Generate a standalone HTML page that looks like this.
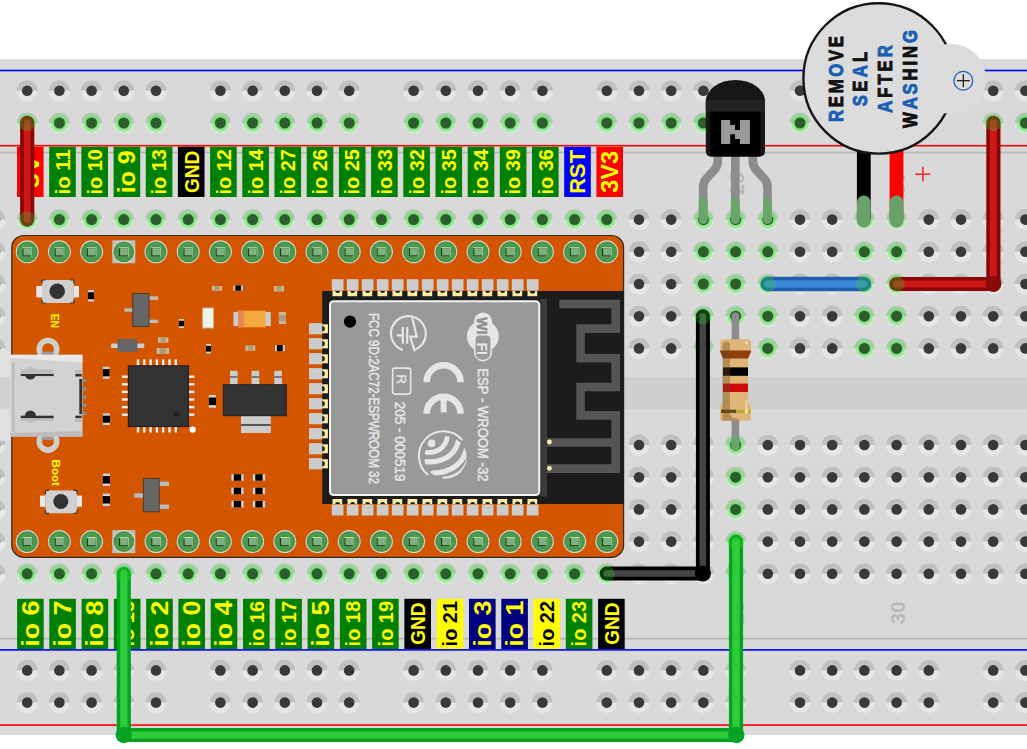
<!DOCTYPE html><html><head><meta charset="utf-8"><style>html,body{margin:0;padding:0;background:#fff;overflow:hidden}svg{display:block}text{font-family:"Liberation Sans",sans-serif}</style></head><body>
<svg width="1027" height="749" viewBox="0 0 1027 749">
<defs>
<radialGradient id="gg" cx="0" cy="0" r="10.6" gradientUnits="userSpaceOnUse"><stop offset="0.45" stop-color="#5ce05c" stop-opacity=".85"/><stop offset="0.72" stop-color="#6ae86a" stop-opacity=".6"/><stop offset="1" stop-color="#80ee80" stop-opacity="0"/></radialGradient>
<g id="h"><circle r="10.6" fill="#e6e6e6"/><path d="M-10.6,0A10.6,10.6 0 0 1 10.6,0Z" fill="#c0c0c0"/><circle r="5.3" fill="#393939"/></g>
<g id="g"><circle r="10.6" fill="#e6e6e6"/><path d="M-10.6,0A10.6,10.6 0 0 1 10.6,0Z" fill="#c0c0c0"/><circle r="10.6" fill="url(#gg)"/><circle r="5.5" fill="#2b5e2b"/></g>
<g id="p"><circle r="11.5" fill="#d2d6d6"/><circle r="10.4" fill="#4e8c4e"/><circle r="9" fill="#46a046"/><circle r="6.9" fill="#558f55"/><rect x="-4.8" y="-4.5" width="9.6" height="9.2" fill="#b4ecb4"/><rect x="-4.8" y="-3.6" width="8.9" height="8.3" fill="#0e3e0e"/><rect x="-3.7" y="-3.6" width="7.8" height="7.2" fill="#80b080"/></g>
</defs>
<rect x="0" y="59" width="1027" height="676" fill="#d9d9d9"/>
<rect x="0" y="377" width="1027" height="32" fill="#cfcfcf"/>
<rect x="0" y="69.7" width="1027" height="1.6" fill="#0000ff"/>
<rect x="0" y="144.9" width="1027" height="1.6" fill="#ff0000"/>
<rect x="0" y="151.7" width="1027" height="1.6" fill="#b5b5b5"/>
<rect x="0" y="637.9" width="1027" height="1.6" fill="#b5b5b5"/>
<rect x="0" y="649.1" width="1027" height="1.6" fill="#0000ff"/>
<rect x="0" y="724.3" width="1027" height="1.6" fill="#ff0000"/>
<text transform="translate(743.6,183.8) rotate(-90)" text-anchor="middle" font-size="20.5" font-weight="bold" fill="#b8b8b8">25</text>
<text transform="translate(904.6,183.8) rotate(-90)" text-anchor="middle" font-size="20.5" font-weight="bold" fill="#b8b8b8">30</text>
<text transform="translate(743.6,612.8) rotate(-90)" text-anchor="middle" font-size="20.5" font-weight="bold" fill="#b8b8b8">25</text>
<text transform="translate(904.6,612.8) rotate(-90)" text-anchor="middle" font-size="20.5" font-weight="bold" fill="#b8b8b8">30</text>
<use href="#h" x="27.2" y="90.8"/>
<use href="#h" x="59.4" y="90.8"/>
<use href="#h" x="91.6" y="90.8"/>
<use href="#h" x="123.8" y="90.8"/>
<use href="#h" x="156" y="90.8"/>
<use href="#h" x="220.4" y="90.8"/>
<use href="#h" x="252.6" y="90.8"/>
<use href="#h" x="284.8" y="90.8"/>
<use href="#h" x="317" y="90.8"/>
<use href="#h" x="349.2" y="90.8"/>
<use href="#h" x="413.6" y="90.8"/>
<use href="#h" x="445.8" y="90.8"/>
<use href="#h" x="478" y="90.8"/>
<use href="#h" x="510.2" y="90.8"/>
<use href="#h" x="542.4" y="90.8"/>
<use href="#h" x="606.8" y="90.8"/>
<use href="#h" x="639" y="90.8"/>
<use href="#h" x="671.2" y="90.8"/>
<use href="#h" x="703.4" y="90.8"/>
<use href="#h" x="735.6" y="90.8"/>
<use href="#h" x="800" y="90.8"/>
<use href="#h" x="832.2" y="90.8"/>
<use href="#h" x="864.4" y="90.8"/>
<use href="#h" x="896.6" y="90.8"/>
<use href="#h" x="928.8" y="90.8"/>
<use href="#h" x="993.2" y="90.8"/>
<use href="#h" x="1025.4" y="90.8"/>
<use href="#g" x="27.2" y="123"/>
<use href="#g" x="59.4" y="123"/>
<use href="#g" x="91.6" y="123"/>
<use href="#g" x="123.8" y="123"/>
<use href="#g" x="156" y="123"/>
<use href="#g" x="220.4" y="123"/>
<use href="#g" x="252.6" y="123"/>
<use href="#g" x="284.8" y="123"/>
<use href="#g" x="317" y="123"/>
<use href="#g" x="349.2" y="123"/>
<use href="#g" x="413.6" y="123"/>
<use href="#g" x="445.8" y="123"/>
<use href="#g" x="478" y="123"/>
<use href="#g" x="510.2" y="123"/>
<use href="#g" x="542.4" y="123"/>
<use href="#g" x="606.8" y="123"/>
<use href="#g" x="639" y="123"/>
<use href="#g" x="671.2" y="123"/>
<use href="#g" x="703.4" y="123"/>
<use href="#g" x="735.6" y="123"/>
<use href="#g" x="800" y="123"/>
<use href="#g" x="832.2" y="123"/>
<use href="#g" x="864.4" y="123"/>
<use href="#g" x="896.6" y="123"/>
<use href="#g" x="928.8" y="123"/>
<use href="#g" x="993.2" y="123"/>
<use href="#g" x="1025.4" y="123"/>
<use href="#h" x="27.2" y="670.4"/>
<use href="#h" x="59.4" y="670.4"/>
<use href="#h" x="91.6" y="670.4"/>
<use href="#h" x="123.8" y="670.4"/>
<use href="#h" x="156" y="670.4"/>
<use href="#h" x="220.4" y="670.4"/>
<use href="#h" x="252.6" y="670.4"/>
<use href="#h" x="284.8" y="670.4"/>
<use href="#h" x="317" y="670.4"/>
<use href="#h" x="349.2" y="670.4"/>
<use href="#h" x="413.6" y="670.4"/>
<use href="#h" x="445.8" y="670.4"/>
<use href="#h" x="478" y="670.4"/>
<use href="#h" x="510.2" y="670.4"/>
<use href="#h" x="542.4" y="670.4"/>
<use href="#h" x="606.8" y="670.4"/>
<use href="#h" x="639" y="670.4"/>
<use href="#h" x="671.2" y="670.4"/>
<use href="#h" x="703.4" y="670.4"/>
<use href="#h" x="735.6" y="670.4"/>
<use href="#h" x="800" y="670.4"/>
<use href="#h" x="832.2" y="670.4"/>
<use href="#h" x="864.4" y="670.4"/>
<use href="#h" x="896.6" y="670.4"/>
<use href="#h" x="928.8" y="670.4"/>
<use href="#h" x="993.2" y="670.4"/>
<use href="#h" x="1025.4" y="670.4"/>
<use href="#h" x="27.2" y="702.6"/>
<use href="#h" x="59.4" y="702.6"/>
<use href="#h" x="91.6" y="702.6"/>
<use href="#h" x="123.8" y="702.6"/>
<use href="#h" x="156" y="702.6"/>
<use href="#h" x="220.4" y="702.6"/>
<use href="#h" x="252.6" y="702.6"/>
<use href="#h" x="284.8" y="702.6"/>
<use href="#h" x="317" y="702.6"/>
<use href="#h" x="349.2" y="702.6"/>
<use href="#h" x="413.6" y="702.6"/>
<use href="#h" x="445.8" y="702.6"/>
<use href="#h" x="478" y="702.6"/>
<use href="#h" x="510.2" y="702.6"/>
<use href="#h" x="542.4" y="702.6"/>
<use href="#h" x="606.8" y="702.6"/>
<use href="#h" x="639" y="702.6"/>
<use href="#h" x="671.2" y="702.6"/>
<use href="#h" x="703.4" y="702.6"/>
<use href="#h" x="735.6" y="702.6"/>
<use href="#h" x="800" y="702.6"/>
<use href="#h" x="832.2" y="702.6"/>
<use href="#h" x="864.4" y="702.6"/>
<use href="#h" x="896.6" y="702.6"/>
<use href="#h" x="928.8" y="702.6"/>
<use href="#h" x="993.2" y="702.6"/>
<use href="#h" x="1025.4" y="702.6"/>
<use href="#h" x="-5" y="219.6"/>
<use href="#g" x="27.2" y="219.6"/>
<use href="#g" x="59.4" y="219.6"/>
<use href="#g" x="91.6" y="219.6"/>
<use href="#g" x="123.8" y="219.6"/>
<use href="#g" x="156" y="219.6"/>
<use href="#g" x="188.2" y="219.6"/>
<use href="#g" x="220.4" y="219.6"/>
<use href="#g" x="252.6" y="219.6"/>
<use href="#g" x="284.8" y="219.6"/>
<use href="#g" x="317" y="219.6"/>
<use href="#g" x="349.2" y="219.6"/>
<use href="#g" x="381.4" y="219.6"/>
<use href="#g" x="413.6" y="219.6"/>
<use href="#g" x="445.8" y="219.6"/>
<use href="#g" x="478" y="219.6"/>
<use href="#g" x="510.2" y="219.6"/>
<use href="#g" x="542.4" y="219.6"/>
<use href="#g" x="574.6" y="219.6"/>
<use href="#g" x="606.8" y="219.6"/>
<use href="#h" x="639" y="219.6"/>
<use href="#h" x="671.2" y="219.6"/>
<use href="#g" x="703.4" y="219.6"/>
<use href="#g" x="735.6" y="219.6"/>
<use href="#g" x="767.8" y="219.6"/>
<use href="#h" x="800" y="219.6"/>
<use href="#h" x="832.2" y="219.6"/>
<use href="#g" x="864.4" y="219.6"/>
<use href="#g" x="896.6" y="219.6"/>
<use href="#h" x="928.8" y="219.6"/>
<use href="#h" x="961" y="219.6"/>
<use href="#h" x="993.2" y="219.6"/>
<use href="#h" x="1025.4" y="219.6"/>
<use href="#h" x="-5" y="251.8"/>
<use href="#g" x="27.2" y="251.8"/>
<use href="#g" x="59.4" y="251.8"/>
<use href="#g" x="91.6" y="251.8"/>
<use href="#g" x="123.8" y="251.8"/>
<use href="#g" x="156" y="251.8"/>
<use href="#g" x="188.2" y="251.8"/>
<use href="#g" x="220.4" y="251.8"/>
<use href="#g" x="252.6" y="251.8"/>
<use href="#g" x="284.8" y="251.8"/>
<use href="#g" x="317" y="251.8"/>
<use href="#g" x="349.2" y="251.8"/>
<use href="#g" x="381.4" y="251.8"/>
<use href="#g" x="413.6" y="251.8"/>
<use href="#g" x="445.8" y="251.8"/>
<use href="#g" x="478" y="251.8"/>
<use href="#g" x="510.2" y="251.8"/>
<use href="#g" x="542.4" y="251.8"/>
<use href="#g" x="574.6" y="251.8"/>
<use href="#g" x="606.8" y="251.8"/>
<use href="#h" x="639" y="251.8"/>
<use href="#h" x="671.2" y="251.8"/>
<use href="#g" x="703.4" y="251.8"/>
<use href="#g" x="735.6" y="251.8"/>
<use href="#g" x="767.8" y="251.8"/>
<use href="#h" x="800" y="251.8"/>
<use href="#h" x="832.2" y="251.8"/>
<use href="#g" x="864.4" y="251.8"/>
<use href="#g" x="896.6" y="251.8"/>
<use href="#h" x="928.8" y="251.8"/>
<use href="#h" x="961" y="251.8"/>
<use href="#h" x="993.2" y="251.8"/>
<use href="#h" x="1025.4" y="251.8"/>
<use href="#h" x="-5" y="284"/>
<use href="#g" x="27.2" y="284"/>
<use href="#g" x="59.4" y="284"/>
<use href="#g" x="91.6" y="284"/>
<use href="#g" x="123.8" y="284"/>
<use href="#g" x="156" y="284"/>
<use href="#g" x="188.2" y="284"/>
<use href="#g" x="220.4" y="284"/>
<use href="#g" x="252.6" y="284"/>
<use href="#g" x="284.8" y="284"/>
<use href="#g" x="317" y="284"/>
<use href="#g" x="349.2" y="284"/>
<use href="#g" x="381.4" y="284"/>
<use href="#g" x="413.6" y="284"/>
<use href="#g" x="445.8" y="284"/>
<use href="#g" x="478" y="284"/>
<use href="#g" x="510.2" y="284"/>
<use href="#g" x="542.4" y="284"/>
<use href="#g" x="574.6" y="284"/>
<use href="#g" x="606.8" y="284"/>
<use href="#h" x="639" y="284"/>
<use href="#h" x="671.2" y="284"/>
<use href="#g" x="703.4" y="284"/>
<use href="#g" x="735.6" y="284"/>
<use href="#g" x="767.8" y="284"/>
<use href="#h" x="800" y="284"/>
<use href="#h" x="832.2" y="284"/>
<use href="#g" x="864.4" y="284"/>
<use href="#g" x="896.6" y="284"/>
<use href="#h" x="928.8" y="284"/>
<use href="#h" x="961" y="284"/>
<use href="#h" x="993.2" y="284"/>
<use href="#h" x="1025.4" y="284"/>
<use href="#h" x="-5" y="316.2"/>
<use href="#g" x="27.2" y="316.2"/>
<use href="#g" x="59.4" y="316.2"/>
<use href="#g" x="91.6" y="316.2"/>
<use href="#g" x="123.8" y="316.2"/>
<use href="#g" x="156" y="316.2"/>
<use href="#g" x="188.2" y="316.2"/>
<use href="#g" x="220.4" y="316.2"/>
<use href="#g" x="252.6" y="316.2"/>
<use href="#g" x="284.8" y="316.2"/>
<use href="#g" x="317" y="316.2"/>
<use href="#g" x="349.2" y="316.2"/>
<use href="#g" x="381.4" y="316.2"/>
<use href="#g" x="413.6" y="316.2"/>
<use href="#g" x="445.8" y="316.2"/>
<use href="#g" x="478" y="316.2"/>
<use href="#g" x="510.2" y="316.2"/>
<use href="#g" x="542.4" y="316.2"/>
<use href="#g" x="574.6" y="316.2"/>
<use href="#g" x="606.8" y="316.2"/>
<use href="#h" x="639" y="316.2"/>
<use href="#h" x="671.2" y="316.2"/>
<use href="#g" x="703.4" y="316.2"/>
<use href="#g" x="735.6" y="316.2"/>
<use href="#g" x="767.8" y="316.2"/>
<use href="#h" x="800" y="316.2"/>
<use href="#h" x="832.2" y="316.2"/>
<use href="#g" x="864.4" y="316.2"/>
<use href="#g" x="896.6" y="316.2"/>
<use href="#h" x="928.8" y="316.2"/>
<use href="#h" x="961" y="316.2"/>
<use href="#h" x="993.2" y="316.2"/>
<use href="#h" x="1025.4" y="316.2"/>
<use href="#h" x="-5" y="348.4"/>
<use href="#g" x="27.2" y="348.4"/>
<use href="#g" x="59.4" y="348.4"/>
<use href="#g" x="91.6" y="348.4"/>
<use href="#g" x="123.8" y="348.4"/>
<use href="#g" x="156" y="348.4"/>
<use href="#g" x="188.2" y="348.4"/>
<use href="#g" x="220.4" y="348.4"/>
<use href="#g" x="252.6" y="348.4"/>
<use href="#g" x="284.8" y="348.4"/>
<use href="#g" x="317" y="348.4"/>
<use href="#g" x="349.2" y="348.4"/>
<use href="#g" x="381.4" y="348.4"/>
<use href="#g" x="413.6" y="348.4"/>
<use href="#g" x="445.8" y="348.4"/>
<use href="#g" x="478" y="348.4"/>
<use href="#g" x="510.2" y="348.4"/>
<use href="#g" x="542.4" y="348.4"/>
<use href="#g" x="574.6" y="348.4"/>
<use href="#g" x="606.8" y="348.4"/>
<use href="#h" x="639" y="348.4"/>
<use href="#h" x="671.2" y="348.4"/>
<use href="#g" x="703.4" y="348.4"/>
<use href="#g" x="735.6" y="348.4"/>
<use href="#g" x="767.8" y="348.4"/>
<use href="#h" x="800" y="348.4"/>
<use href="#h" x="832.2" y="348.4"/>
<use href="#g" x="864.4" y="348.4"/>
<use href="#g" x="896.6" y="348.4"/>
<use href="#h" x="928.8" y="348.4"/>
<use href="#h" x="961" y="348.4"/>
<use href="#h" x="993.2" y="348.4"/>
<use href="#h" x="1025.4" y="348.4"/>
<use href="#h" x="-5" y="445"/>
<use href="#g" x="27.2" y="445"/>
<use href="#g" x="59.4" y="445"/>
<use href="#g" x="91.6" y="445"/>
<use href="#g" x="123.8" y="445"/>
<use href="#g" x="156" y="445"/>
<use href="#g" x="188.2" y="445"/>
<use href="#g" x="220.4" y="445"/>
<use href="#g" x="252.6" y="445"/>
<use href="#g" x="284.8" y="445"/>
<use href="#g" x="317" y="445"/>
<use href="#g" x="349.2" y="445"/>
<use href="#g" x="381.4" y="445"/>
<use href="#g" x="413.6" y="445"/>
<use href="#g" x="445.8" y="445"/>
<use href="#g" x="478" y="445"/>
<use href="#g" x="510.2" y="445"/>
<use href="#g" x="542.4" y="445"/>
<use href="#g" x="574.6" y="445"/>
<use href="#g" x="606.8" y="445"/>
<use href="#h" x="639" y="445"/>
<use href="#h" x="671.2" y="445"/>
<use href="#h" x="703.4" y="445"/>
<use href="#g" x="735.6" y="445"/>
<use href="#h" x="767.8" y="445"/>
<use href="#h" x="800" y="445"/>
<use href="#h" x="832.2" y="445"/>
<use href="#h" x="864.4" y="445"/>
<use href="#h" x="896.6" y="445"/>
<use href="#h" x="928.8" y="445"/>
<use href="#h" x="961" y="445"/>
<use href="#h" x="993.2" y="445"/>
<use href="#h" x="1025.4" y="445"/>
<use href="#h" x="-5" y="477.2"/>
<use href="#g" x="27.2" y="477.2"/>
<use href="#g" x="59.4" y="477.2"/>
<use href="#g" x="91.6" y="477.2"/>
<use href="#g" x="123.8" y="477.2"/>
<use href="#g" x="156" y="477.2"/>
<use href="#g" x="188.2" y="477.2"/>
<use href="#g" x="220.4" y="477.2"/>
<use href="#g" x="252.6" y="477.2"/>
<use href="#g" x="284.8" y="477.2"/>
<use href="#g" x="317" y="477.2"/>
<use href="#g" x="349.2" y="477.2"/>
<use href="#g" x="381.4" y="477.2"/>
<use href="#g" x="413.6" y="477.2"/>
<use href="#g" x="445.8" y="477.2"/>
<use href="#g" x="478" y="477.2"/>
<use href="#g" x="510.2" y="477.2"/>
<use href="#g" x="542.4" y="477.2"/>
<use href="#g" x="574.6" y="477.2"/>
<use href="#g" x="606.8" y="477.2"/>
<use href="#h" x="639" y="477.2"/>
<use href="#h" x="671.2" y="477.2"/>
<use href="#h" x="703.4" y="477.2"/>
<use href="#g" x="735.6" y="477.2"/>
<use href="#h" x="767.8" y="477.2"/>
<use href="#h" x="800" y="477.2"/>
<use href="#h" x="832.2" y="477.2"/>
<use href="#h" x="864.4" y="477.2"/>
<use href="#h" x="896.6" y="477.2"/>
<use href="#h" x="928.8" y="477.2"/>
<use href="#h" x="961" y="477.2"/>
<use href="#h" x="993.2" y="477.2"/>
<use href="#h" x="1025.4" y="477.2"/>
<use href="#h" x="-5" y="509.4"/>
<use href="#g" x="27.2" y="509.4"/>
<use href="#g" x="59.4" y="509.4"/>
<use href="#g" x="91.6" y="509.4"/>
<use href="#g" x="123.8" y="509.4"/>
<use href="#g" x="156" y="509.4"/>
<use href="#g" x="188.2" y="509.4"/>
<use href="#g" x="220.4" y="509.4"/>
<use href="#g" x="252.6" y="509.4"/>
<use href="#g" x="284.8" y="509.4"/>
<use href="#g" x="317" y="509.4"/>
<use href="#g" x="349.2" y="509.4"/>
<use href="#g" x="381.4" y="509.4"/>
<use href="#g" x="413.6" y="509.4"/>
<use href="#g" x="445.8" y="509.4"/>
<use href="#g" x="478" y="509.4"/>
<use href="#g" x="510.2" y="509.4"/>
<use href="#g" x="542.4" y="509.4"/>
<use href="#g" x="574.6" y="509.4"/>
<use href="#g" x="606.8" y="509.4"/>
<use href="#h" x="639" y="509.4"/>
<use href="#h" x="671.2" y="509.4"/>
<use href="#h" x="703.4" y="509.4"/>
<use href="#g" x="735.6" y="509.4"/>
<use href="#h" x="767.8" y="509.4"/>
<use href="#h" x="800" y="509.4"/>
<use href="#h" x="832.2" y="509.4"/>
<use href="#h" x="864.4" y="509.4"/>
<use href="#h" x="896.6" y="509.4"/>
<use href="#h" x="928.8" y="509.4"/>
<use href="#h" x="961" y="509.4"/>
<use href="#h" x="993.2" y="509.4"/>
<use href="#h" x="1025.4" y="509.4"/>
<use href="#h" x="-5" y="541.6"/>
<use href="#g" x="27.2" y="541.6"/>
<use href="#g" x="59.4" y="541.6"/>
<use href="#g" x="91.6" y="541.6"/>
<use href="#g" x="123.8" y="541.6"/>
<use href="#g" x="156" y="541.6"/>
<use href="#g" x="188.2" y="541.6"/>
<use href="#g" x="220.4" y="541.6"/>
<use href="#g" x="252.6" y="541.6"/>
<use href="#g" x="284.8" y="541.6"/>
<use href="#g" x="317" y="541.6"/>
<use href="#g" x="349.2" y="541.6"/>
<use href="#g" x="381.4" y="541.6"/>
<use href="#g" x="413.6" y="541.6"/>
<use href="#g" x="445.8" y="541.6"/>
<use href="#g" x="478" y="541.6"/>
<use href="#g" x="510.2" y="541.6"/>
<use href="#g" x="542.4" y="541.6"/>
<use href="#g" x="574.6" y="541.6"/>
<use href="#g" x="606.8" y="541.6"/>
<use href="#h" x="639" y="541.6"/>
<use href="#h" x="671.2" y="541.6"/>
<use href="#h" x="703.4" y="541.6"/>
<use href="#g" x="735.6" y="541.6"/>
<use href="#h" x="767.8" y="541.6"/>
<use href="#h" x="800" y="541.6"/>
<use href="#h" x="832.2" y="541.6"/>
<use href="#h" x="864.4" y="541.6"/>
<use href="#h" x="896.6" y="541.6"/>
<use href="#h" x="928.8" y="541.6"/>
<use href="#h" x="961" y="541.6"/>
<use href="#h" x="993.2" y="541.6"/>
<use href="#h" x="1025.4" y="541.6"/>
<use href="#h" x="-5" y="573.8"/>
<use href="#g" x="27.2" y="573.8"/>
<use href="#g" x="59.4" y="573.8"/>
<use href="#g" x="91.6" y="573.8"/>
<use href="#g" x="123.8" y="573.8"/>
<use href="#g" x="156" y="573.8"/>
<use href="#g" x="188.2" y="573.8"/>
<use href="#g" x="220.4" y="573.8"/>
<use href="#g" x="252.6" y="573.8"/>
<use href="#g" x="284.8" y="573.8"/>
<use href="#g" x="317" y="573.8"/>
<use href="#g" x="349.2" y="573.8"/>
<use href="#g" x="381.4" y="573.8"/>
<use href="#g" x="413.6" y="573.8"/>
<use href="#g" x="445.8" y="573.8"/>
<use href="#g" x="478" y="573.8"/>
<use href="#g" x="510.2" y="573.8"/>
<use href="#g" x="542.4" y="573.8"/>
<use href="#g" x="574.6" y="573.8"/>
<use href="#g" x="606.8" y="573.8"/>
<use href="#h" x="639" y="573.8"/>
<use href="#h" x="671.2" y="573.8"/>
<use href="#h" x="703.4" y="573.8"/>
<use href="#g" x="735.6" y="573.8"/>
<use href="#h" x="767.8" y="573.8"/>
<use href="#h" x="800" y="573.8"/>
<use href="#h" x="832.2" y="573.8"/>
<use href="#h" x="864.4" y="573.8"/>
<use href="#h" x="896.6" y="573.8"/>
<use href="#h" x="928.8" y="573.8"/>
<use href="#h" x="961" y="573.8"/>
<use href="#h" x="993.2" y="573.8"/>
<use href="#h" x="1025.4" y="573.8"/>
<rect x="17" y="146.8" width="26.6" height="50.2" fill="#ff0000"/>
<text transform="translate(38.9,171.8) rotate(-90)" text-anchor="middle" font-size="24" font-weight="bold" fill="#ffff00" textLength="33" lengthAdjust="spacingAndGlyphs">5V</text>
<rect x="49.2" y="146.8" width="26.6" height="50.2" fill="#008000"/>
<text transform="translate(69.7,171.8) rotate(-90)" text-anchor="middle" font-size="20" font-weight="bold" fill="#ffff00" textLength="45.4" lengthAdjust="spacingAndGlyphs">io 11</text>
<rect x="81.4" y="146.8" width="26.6" height="50.2" fill="#008000"/>
<text transform="translate(101.9,171.8) rotate(-90)" text-anchor="middle" font-size="20" font-weight="bold" fill="#ffff00" textLength="45.4" lengthAdjust="spacingAndGlyphs">io 10</text>
<rect x="113.6" y="146.8" width="26.6" height="50.2" fill="#008000"/>
<text transform="translate(135.1,171.8) rotate(-90)" text-anchor="middle" font-size="23" font-weight="bold" fill="#ffff00" textLength="42.8" lengthAdjust="spacingAndGlyphs">io 9</text>
<rect x="145.8" y="146.8" width="26.6" height="50.2" fill="#008000"/>
<text transform="translate(166.3,171.8) rotate(-90)" text-anchor="middle" font-size="20" font-weight="bold" fill="#ffff00" textLength="45.4" lengthAdjust="spacingAndGlyphs">io 13</text>
<rect x="177.9" y="146.8" width="26.6" height="50.2" fill="#000000"/>
<text transform="translate(198.8,171.8) rotate(-90)" text-anchor="middle" font-size="21" font-weight="bold" fill="#ffff00" textLength="42.3" lengthAdjust="spacingAndGlyphs">GND</text>
<rect x="210.1" y="146.8" width="26.6" height="50.2" fill="#008000"/>
<text transform="translate(230.6,171.8) rotate(-90)" text-anchor="middle" font-size="20" font-weight="bold" fill="#ffff00" textLength="45.4" lengthAdjust="spacingAndGlyphs">io 12</text>
<rect x="242.3" y="146.8" width="26.6" height="50.2" fill="#008000"/>
<text transform="translate(262.8,171.8) rotate(-90)" text-anchor="middle" font-size="20" font-weight="bold" fill="#ffff00" textLength="45.4" lengthAdjust="spacingAndGlyphs">io 14</text>
<rect x="274.5" y="146.8" width="26.6" height="50.2" fill="#008000"/>
<text transform="translate(295,171.8) rotate(-90)" text-anchor="middle" font-size="20" font-weight="bold" fill="#ffff00" textLength="45.4" lengthAdjust="spacingAndGlyphs">io 27</text>
<rect x="306.7" y="146.8" width="26.6" height="50.2" fill="#008000"/>
<text transform="translate(327.2,171.8) rotate(-90)" text-anchor="middle" font-size="20" font-weight="bold" fill="#ffff00" textLength="45.4" lengthAdjust="spacingAndGlyphs">io 26</text>
<rect x="338.9" y="146.8" width="26.6" height="50.2" fill="#008000"/>
<text transform="translate(359.4,171.8) rotate(-90)" text-anchor="middle" font-size="20" font-weight="bold" fill="#ffff00" textLength="45.4" lengthAdjust="spacingAndGlyphs">io 25</text>
<rect x="371.1" y="146.8" width="26.6" height="50.2" fill="#008000"/>
<text transform="translate(391.6,171.8) rotate(-90)" text-anchor="middle" font-size="20" font-weight="bold" fill="#ffff00" textLength="45.4" lengthAdjust="spacingAndGlyphs">io 33</text>
<rect x="403.3" y="146.8" width="26.6" height="50.2" fill="#008000"/>
<text transform="translate(423.8,171.8) rotate(-90)" text-anchor="middle" font-size="20" font-weight="bold" fill="#ffff00" textLength="45.4" lengthAdjust="spacingAndGlyphs">io 32</text>
<rect x="435.5" y="146.8" width="26.6" height="50.2" fill="#008000"/>
<text transform="translate(456,171.8) rotate(-90)" text-anchor="middle" font-size="20" font-weight="bold" fill="#ffff00" textLength="45.4" lengthAdjust="spacingAndGlyphs">io 35</text>
<rect x="467.7" y="146.8" width="26.6" height="50.2" fill="#008000"/>
<text transform="translate(488.2,171.8) rotate(-90)" text-anchor="middle" font-size="20" font-weight="bold" fill="#ffff00" textLength="45.4" lengthAdjust="spacingAndGlyphs">io 34</text>
<rect x="499.8" y="146.8" width="26.6" height="50.2" fill="#008000"/>
<text transform="translate(520.4,171.8) rotate(-90)" text-anchor="middle" font-size="20" font-weight="bold" fill="#ffff00" textLength="45.4" lengthAdjust="spacingAndGlyphs">io 39</text>
<rect x="532" y="146.8" width="26.6" height="50.2" fill="#008000"/>
<text transform="translate(552.5,171.8) rotate(-90)" text-anchor="middle" font-size="20" font-weight="bold" fill="#ffff00" textLength="45.4" lengthAdjust="spacingAndGlyphs">io 36</text>
<rect x="564.2" y="146.8" width="26.6" height="50.2" fill="#0000ff"/>
<text transform="translate(585.4,171.8) rotate(-90)" text-anchor="middle" font-size="22" font-weight="bold" fill="#ffff00" textLength="43.8" lengthAdjust="spacingAndGlyphs">RST</text>
<rect x="596.4" y="146.8" width="26.6" height="50.2" fill="#ff0000"/>
<text transform="translate(618.2,171.8) rotate(-90)" text-anchor="middle" font-size="23.5" font-weight="bold" fill="#ffff00" textLength="42" lengthAdjust="spacingAndGlyphs">3V3</text>
<rect x="17.1" y="598.8" width="26.6" height="50.2" fill="#008000"/>
<text transform="translate(38.6,623.7) rotate(-90)" text-anchor="middle" font-size="23" font-weight="bold" fill="#ffff00" textLength="46.3" lengthAdjust="spacingAndGlyphs">io 6</text>
<rect x="49.3" y="598.8" width="26.6" height="50.2" fill="#008000"/>
<text transform="translate(70.9,623.7) rotate(-90)" text-anchor="middle" font-size="23" font-weight="bold" fill="#ffff00" textLength="46.3" lengthAdjust="spacingAndGlyphs">io 7</text>
<rect x="81.6" y="598.8" width="26.6" height="50.2" fill="#008000"/>
<text transform="translate(103.2,623.7) rotate(-90)" text-anchor="middle" font-size="23" font-weight="bold" fill="#ffff00" textLength="46.3" lengthAdjust="spacingAndGlyphs">io 8</text>
<rect x="113.9" y="598.8" width="26.6" height="50.2" fill="#008000"/>
<text transform="translate(134.4,623.7) rotate(-90)" text-anchor="middle" font-size="20" font-weight="bold" fill="#ffff00" textLength="45.4" lengthAdjust="spacingAndGlyphs">io 15</text>
<rect x="146.2" y="598.8" width="26.6" height="50.2" fill="#008000"/>
<text transform="translate(167.8,623.7) rotate(-90)" text-anchor="middle" font-size="23" font-weight="bold" fill="#ffff00" textLength="46.3" lengthAdjust="spacingAndGlyphs">io 2</text>
<rect x="178.4" y="598.8" width="26.6" height="50.2" fill="#008000"/>
<text transform="translate(200,623.7) rotate(-90)" text-anchor="middle" font-size="23" font-weight="bold" fill="#ffff00" textLength="46.3" lengthAdjust="spacingAndGlyphs">io 0</text>
<rect x="210.7" y="598.8" width="26.6" height="50.2" fill="#008000"/>
<text transform="translate(232.3,623.7) rotate(-90)" text-anchor="middle" font-size="23" font-weight="bold" fill="#ffff00" textLength="46.3" lengthAdjust="spacingAndGlyphs">io 4</text>
<rect x="243" y="598.8" width="26.6" height="50.2" fill="#008000"/>
<text transform="translate(263.5,623.7) rotate(-90)" text-anchor="middle" font-size="20" font-weight="bold" fill="#ffff00" textLength="45.4" lengthAdjust="spacingAndGlyphs">io 16</text>
<rect x="275.3" y="598.8" width="26.6" height="50.2" fill="#008000"/>
<text transform="translate(295.8,623.7) rotate(-90)" text-anchor="middle" font-size="20" font-weight="bold" fill="#ffff00" textLength="45.4" lengthAdjust="spacingAndGlyphs">io 17</text>
<rect x="307.6" y="598.8" width="26.6" height="50.2" fill="#008000"/>
<text transform="translate(329.1,623.7) rotate(-90)" text-anchor="middle" font-size="23" font-weight="bold" fill="#ffff00" textLength="46.3" lengthAdjust="spacingAndGlyphs">io 5</text>
<rect x="339.9" y="598.8" width="26.6" height="50.2" fill="#008000"/>
<text transform="translate(360.4,623.7) rotate(-90)" text-anchor="middle" font-size="20" font-weight="bold" fill="#ffff00" textLength="45.4" lengthAdjust="spacingAndGlyphs">io 18</text>
<rect x="372.1" y="598.8" width="26.6" height="50.2" fill="#008000"/>
<text transform="translate(392.6,623.7) rotate(-90)" text-anchor="middle" font-size="20" font-weight="bold" fill="#ffff00" textLength="45.4" lengthAdjust="spacingAndGlyphs">io 19</text>
<rect x="404.4" y="598.8" width="26.6" height="50.2" fill="#000000"/>
<text transform="translate(425.3,623.7) rotate(-90)" text-anchor="middle" font-size="21" font-weight="bold" fill="#ffff00" textLength="42.3" lengthAdjust="spacingAndGlyphs">GND</text>
<rect x="436.7" y="598.8" width="26.6" height="50.2" fill="#ffff00"/>
<text transform="translate(457.2,623.7) rotate(-90)" text-anchor="middle" font-size="20" font-weight="bold" fill="#000000" textLength="45.4" lengthAdjust="spacingAndGlyphs">io 21</text>
<rect x="469" y="598.8" width="26.6" height="50.2" fill="#000080"/>
<text transform="translate(490.6,623.7) rotate(-90)" text-anchor="middle" font-size="23" font-weight="bold" fill="#ffff00" textLength="46.3" lengthAdjust="spacingAndGlyphs">io 3</text>
<rect x="501.3" y="598.8" width="26.6" height="50.2" fill="#000080"/>
<text transform="translate(522.8,623.7) rotate(-90)" text-anchor="middle" font-size="23" font-weight="bold" fill="#ffff00" textLength="46.3" lengthAdjust="spacingAndGlyphs">io 1</text>
<rect x="533.5" y="598.8" width="26.6" height="50.2" fill="#ffff00"/>
<text transform="translate(554,623.7) rotate(-90)" text-anchor="middle" font-size="20" font-weight="bold" fill="#000000" textLength="45.4" lengthAdjust="spacingAndGlyphs">io 22</text>
<rect x="565.8" y="598.8" width="26.6" height="50.2" fill="#008000"/>
<text transform="translate(586.3,623.7) rotate(-90)" text-anchor="middle" font-size="20" font-weight="bold" fill="#ffff00" textLength="45.4" lengthAdjust="spacingAndGlyphs">io 23</text>
<rect x="598.1" y="598.8" width="26.6" height="50.2" fill="#000000"/>
<text transform="translate(618.9,623.7) rotate(-90)" text-anchor="middle" font-size="21" font-weight="bold" fill="#ffff00" textLength="42.3" lengthAdjust="spacingAndGlyphs">GND</text>
<rect x="11.8" y="235.5" width="611.8" height="321.8" rx="12" fill="#d45500" stroke="#2a2a2a" stroke-width="1.2"/>
<use href="#p" x="27.2" y="251.8"/>
<use href="#p" x="27.2" y="541.6"/>
<use href="#p" x="59.4" y="251.8"/>
<use href="#p" x="59.4" y="541.6"/>
<use href="#p" x="91.6" y="251.8"/>
<use href="#p" x="91.6" y="541.6"/>
<rect x="112.3" y="240.3" width="23" height="23" fill="#bdbdbd"/>
<use href="#p" x="123.8" y="251.8"/>
<rect x="112.3" y="530.1" width="23" height="23" fill="#bdbdbd"/>
<use href="#p" x="123.8" y="541.6"/>
<use href="#p" x="156" y="251.8"/>
<use href="#p" x="156" y="541.6"/>
<use href="#p" x="188.2" y="251.8"/>
<use href="#p" x="188.2" y="541.6"/>
<use href="#p" x="220.4" y="251.8"/>
<use href="#p" x="220.4" y="541.6"/>
<use href="#p" x="252.6" y="251.8"/>
<use href="#p" x="252.6" y="541.6"/>
<use href="#p" x="284.8" y="251.8"/>
<use href="#p" x="284.8" y="541.6"/>
<use href="#p" x="317" y="251.8"/>
<use href="#p" x="317" y="541.6"/>
<use href="#p" x="349.2" y="251.8"/>
<use href="#p" x="349.2" y="541.6"/>
<use href="#p" x="381.4" y="251.8"/>
<use href="#p" x="381.4" y="541.6"/>
<use href="#p" x="413.6" y="251.8"/>
<use href="#p" x="413.6" y="541.6"/>
<use href="#p" x="445.8" y="251.8"/>
<use href="#p" x="445.8" y="541.6"/>
<use href="#p" x="478" y="251.8"/>
<use href="#p" x="478" y="541.6"/>
<use href="#p" x="510.2" y="251.8"/>
<use href="#p" x="510.2" y="541.6"/>
<use href="#p" x="542.4" y="251.8"/>
<use href="#p" x="542.4" y="541.6"/>
<use href="#p" x="574.6" y="251.8"/>
<use href="#p" x="574.6" y="541.6"/>
<use href="#p" x="606.8" y="251.8"/>
<use href="#p" x="606.8" y="541.6"/>
<rect x="36.3" y="286" width="5.7" height="11.4" fill="#e8e8e8"/>
<rect x="73.8" y="286" width="5.2" height="11.4" fill="#e8e8e8"/>
<rect x="42" y="280" width="31.8" height="23" fill="#d0d0d0"/>
<path d="M42,280h3.5M42,280v3.5" stroke="#333" stroke-width="1.2"/>
<path d="M73.8,280h-3.5M73.8,280v3.5" stroke="#333" stroke-width="1.2"/>
<path d="M42,303h3.5M42,303v-3.5" stroke="#333" stroke-width="1.2"/>
<path d="M73.8,303h-3.5M73.8,303v-3.5" stroke="#333" stroke-width="1.2"/>
<circle cx="57.2" cy="291.3" r="7.8" fill="#333"/>
<text transform="translate(51.1,313.8) rotate(90)" font-size="10.5" font-weight="bold" fill="#ffff00" textLength="14.2" lengthAdjust="spacingAndGlyphs">EN</text>
<rect x="88" y="290" width="6" height="11.5" fill="#d0d0d0"/>
<rect x="88" y="292.3" width="6" height="6.9" fill="#000"/>
<rect x="149" y="296.3" width="9.2" height="3.6" fill="#bbb"/>
<rect x="149" y="319.7" width="9.2" height="3.3" fill="#bbb"/>
<rect x="124.4" y="308.3" width="8.4" height="3.4" fill="#bbb"/>
<rect x="132.8" y="293.6" width="16.2" height="32.9" fill="#666" stroke="#333" stroke-width="0.8"/>
<rect x="179" y="319" width="5" height="9" fill="#d0d0d0"/>
<rect x="179" y="320.8" width="5" height="5.4" fill="#000"/>
<rect x="111.2" y="343.5" width="33" height="4.5" fill="#ccc"/>
<rect x="117.6" y="339" width="19.7" height="13" fill="#666"/>
<rect x="158" y="337.4" width="10.4" height="5.4" fill="#c9b79c"/>
<rect x="160.6" y="337.4" width="5.2" height="5.4" fill="#b09a78"/>
<rect x="156.6" y="348" width="12.4" height="6" fill="#c9b79c"/>
<rect x="159.7" y="348" width="6.2" height="6" fill="#b09a78"/>
<rect x="0" y="351" width="10.4" height="89.6" fill="#e0e0e0"/>
<rect x="0" y="377" width="10.4" height="31.5" fill="#d0d0d0"/>
<circle cx="48" cy="349.2" r="8.7" fill="none" stroke="#cfcfcf" stroke-width="5.6"/>
<circle cx="48" cy="441.4" r="8.7" fill="none" stroke="#cfcfcf" stroke-width="5.6"/>
<rect x="41.7" y="351.6" width="12" height="3.2" fill="#9a9a9a"/>
<rect x="41.7" y="436.6" width="12" height="3.4" fill="#9a9a9a"/>
<rect x="10.4" y="354.8" width="72.1" height="81.8" fill="#d2d2d2"/>
<path d="M10.4,354.8L82.5,354.8L82.5,362.5L10.4,358Z" fill="#e8e8e8"/>
<path d="M10.4,436.6L82.5,436.6L82.5,431L10.4,433Z" fill="#bdbdbd"/>
<rect x="12" y="362" width="2.4" height="70" fill="#bbbbbb"/>
<rect x="20.8" y="369.3" width="32.9" height="7.2" fill="#bdbdbd"/>
<circle cx="30.4" cy="372.5" r="5.5" fill="#bdbdbd"/>
<path d="M24.9,374A5.5,5.5 0 0 0 35.9,374Z" fill="#333"/>
<rect x="20.8" y="374" width="32.9" height="2" fill="#333"/>
<rect x="20.8" y="418" width="32.9" height="3" fill="#bdbdbd"/>
<circle cx="30.4" cy="417.3" r="5.5" fill="#bdbdbd"/>
<path d="M24.9,416A5.5,5.5 0 0 1 35.9,416Z" fill="#333"/>
<rect x="20.8" y="415.7" width="32.9" height="2.4" fill="#333"/>
<rect x="79.3" y="378.9" width="2.7" height="35.2" fill="#333"/>
<rect x="75.3" y="374" width="6.4" height="2.5" fill="#333"/>
<rect x="75.3" y="415.7" width="6.4" height="2.3" fill="#333"/>
<rect x="75.3" y="370" width="6.4" height="4" fill="#bbb"/>
<rect x="75.3" y="418" width="6.4" height="4" fill="#bbb"/>
<rect x="82.5" y="378.9" width="4" height="3.5" fill="#888"/>
<rect x="82.5" y="387.1" width="4" height="3.5" fill="#888"/>
<rect x="82.5" y="395.3" width="4" height="3.5" fill="#888"/>
<rect x="82.5" y="403.5" width="4" height="3.5" fill="#888"/>
<rect x="82.5" y="411.7" width="4" height="3.5" fill="#888"/>
<rect x="102.8" y="366.7" width="6.8" height="12" fill="#d0d0d0"/>
<rect x="102.8" y="369.1" width="6.8" height="7.2" fill="#000"/>
<rect x="102.8" y="413.4" width="7.2" height="11.6" fill="#d0d0d0"/>
<rect x="102.8" y="415.7" width="7.2" height="7" fill="#000"/>
<rect x="136.8" y="359.4" width="2.4" height="6.4" fill="#f0f0f0"/>
<rect x="136.8" y="426.6" width="2.4" height="5.9" fill="#f0f0f0"/>
<rect x="143.1" y="359.4" width="2.4" height="6.4" fill="#f0f0f0"/>
<rect x="143.1" y="426.6" width="2.4" height="5.9" fill="#f0f0f0"/>
<rect x="149.4" y="359.4" width="2.4" height="6.4" fill="#f0f0f0"/>
<rect x="149.4" y="426.6" width="2.4" height="5.9" fill="#f0f0f0"/>
<rect x="155.7" y="359.4" width="2.4" height="6.4" fill="#f0f0f0"/>
<rect x="155.7" y="426.6" width="2.4" height="5.9" fill="#f0f0f0"/>
<rect x="162" y="359.4" width="2.4" height="6.4" fill="#f0f0f0"/>
<rect x="162" y="426.6" width="2.4" height="5.9" fill="#f0f0f0"/>
<rect x="168.3" y="359.4" width="2.4" height="6.4" fill="#f0f0f0"/>
<rect x="168.3" y="426.6" width="2.4" height="5.9" fill="#f0f0f0"/>
<rect x="174.6" y="359.4" width="2.4" height="6.4" fill="#f0f0f0"/>
<rect x="174.6" y="426.6" width="2.4" height="5.9" fill="#f0f0f0"/>
<rect x="121.9" y="375.5" width="6.4" height="2.4" fill="#f0f0f0"/>
<rect x="188.5" y="375.5" width="5.9" height="2.4" fill="#f0f0f0"/>
<rect x="121.9" y="383.1" width="6.4" height="2.4" fill="#f0f0f0"/>
<rect x="188.5" y="383.1" width="5.9" height="2.4" fill="#f0f0f0"/>
<rect x="121.9" y="390.7" width="6.4" height="2.4" fill="#f0f0f0"/>
<rect x="188.5" y="390.7" width="5.9" height="2.4" fill="#f0f0f0"/>
<rect x="121.9" y="398.3" width="6.4" height="2.4" fill="#f0f0f0"/>
<rect x="188.5" y="398.3" width="5.9" height="2.4" fill="#f0f0f0"/>
<rect x="121.9" y="405.9" width="6.4" height="2.4" fill="#f0f0f0"/>
<rect x="188.5" y="405.9" width="5.9" height="2.4" fill="#f0f0f0"/>
<rect x="121.9" y="413.5" width="6.4" height="2.4" fill="#f0f0f0"/>
<rect x="188.5" y="413.5" width="5.9" height="2.4" fill="#f0f0f0"/>
<rect x="128.3" y="365.8" width="60.2" height="60.8" fill="#333" stroke="#1a1a1a" stroke-width="1"/>
<circle cx="176.2" cy="414" r="3" fill="#222"/><circle cx="192.6" cy="429.6" r="3.2" fill="#fff"/>
<text transform="translate(51.6,459.5) rotate(90)" font-size="10.8" font-weight="bold" fill="#ffff00" textLength="26.5" lengthAdjust="spacingAndGlyphs">Boot</text>
<rect x="40" y="495.6" width="5.5" height="11.2" fill="#e8e8e8"/>
<rect x="77" y="495.6" width="5" height="11.2" fill="#e8e8e8"/>
<rect x="45.5" y="490.4" width="31.5" height="22.9" fill="#d0d0d0"/>
<path d="M45.5,490.4h3.5M45.5,490.4v3.5" stroke="#333" stroke-width="1.2"/>
<path d="M77,490.4h-3.5M77,490.4v3.5" stroke="#333" stroke-width="1.2"/>
<path d="M45.5,513.3h3.5M45.5,513.3v-3.5" stroke="#333" stroke-width="1.2"/>
<path d="M77,513.3h-3.5M77,513.3v-3.5" stroke="#333" stroke-width="1.2"/>
<circle cx="60.8" cy="501.5" r="7.5" fill="#333"/>
<rect x="102.8" y="473.6" width="7.2" height="12.4" fill="#d0d0d0"/>
<rect x="102.8" y="476.1" width="7.2" height="7.4" fill="#000"/>
<rect x="102.8" y="493.6" width="7.2" height="12.4" fill="#d0d0d0"/>
<rect x="102.8" y="496.1" width="7.2" height="7.4" fill="#000"/>
<rect x="159.2" y="481.6" width="9.7" height="4.4" fill="#bbb"/>
<rect x="159.2" y="504.5" width="9.7" height="4.4" fill="#bbb"/>
<rect x="134.2" y="493.3" width="9.1" height="4.4" fill="#bbb"/>
<rect x="143.3" y="478.6" width="15.9" height="33.2" fill="#666" stroke="#333" stroke-width="0.8"/>
<rect x="212" y="286" width="10" height="4.7" fill="#c9b79c"/>
<rect x="214.5" y="286" width="5" height="4.7" fill="#b09a78"/>
<rect x="233.4" y="285.4" width="9.4" height="5.3" fill="#d0d0d0"/>
<rect x="235.3" y="285.4" width="5.6" height="5.3" fill="#000"/>
<rect x="274" y="286" width="10" height="5.5" fill="#c9b79c"/>
<rect x="276.5" y="286" width="5" height="5.5" fill="#b09a78"/>
<rect x="202.7" y="308" width="10.7" height="20" fill="#f2f2ea" stroke="#c8b890" stroke-width="1"/>
<rect x="233.4" y="312" width="37.4" height="14" fill="#cccccc"/>
<rect x="238" y="310.7" width="27.5" height="16.6" fill="#f4a93c"/>
<rect x="238" y="310.7" width="6" height="16.6" fill="#e88456"/>
<rect x="278.8" y="312" width="7.2" height="12" fill="#c9b79c"/>
<rect x="278.8" y="315" width="7.2" height="6" fill="#b09a78"/>
<rect x="206" y="344" width="5" height="9.5" fill="#d0d0d0"/>
<rect x="206" y="345.9" width="5" height="5.7" fill="#000"/>
<rect x="245.4" y="345.5" width="9.9" height="5.3" fill="#c9b79c"/>
<rect x="247.9" y="345.5" width="5" height="5.3" fill="#b09a78"/>
<rect x="275" y="345" width="9.7" height="6.3" fill="#d0d0d0"/>
<rect x="276.9" y="345" width="5.8" height="6.3" fill="#000"/>
<rect x="230" y="370.8" width="7.6" height="13.9" fill="#cccccc"/>
<rect x="230" y="376" width="7.6" height="2" fill="#777"/>
<rect x="251.6" y="370.8" width="7.6" height="13.9" fill="#cccccc"/>
<rect x="251.6" y="376" width="7.6" height="2" fill="#777"/>
<rect x="274.3" y="370.8" width="7.6" height="13.9" fill="#cccccc"/>
<rect x="274.3" y="376" width="7.6" height="2" fill="#777"/>
<rect x="241" y="415.7" width="29.8" height="17.3" fill="#cccccc"/>
<rect x="241" y="424" width="29.8" height="2" fill="#555"/>
<rect x="223.3" y="384.7" width="63" height="31" fill="#333" stroke="#222" stroke-width="1"/>
<rect x="208.8" y="395" width="7.2" height="12.7" fill="#d0d0d0"/>
<rect x="208.8" y="397.5" width="7.2" height="7.6" fill="#000"/>
<rect x="231.4" y="474.2" width="12.2" height="6.5" fill="#d0d0d0"/>
<rect x="233.8" y="474.2" width="7.3" height="6.5" fill="#000"/>
<rect x="231.4" y="487.7" width="12.2" height="6.5" fill="#d0d0d0"/>
<rect x="233.8" y="487.7" width="7.3" height="6.5" fill="#000"/>
<rect x="231.4" y="500.9" width="12.2" height="6.5" fill="#d0d0d0"/>
<rect x="233.8" y="500.9" width="7.3" height="6.5" fill="#000"/>
<rect x="252.9" y="474.2" width="12.2" height="6.5" fill="#d0d0d0"/>
<rect x="255.3" y="474.2" width="7.3" height="6.5" fill="#000"/>
<rect x="252.9" y="487.7" width="12.2" height="6.5" fill="#d0d0d0"/>
<rect x="255.3" y="487.7" width="7.3" height="6.5" fill="#000"/>
<rect x="252.9" y="500.9" width="12.2" height="6.5" fill="#d0d0d0"/>
<rect x="255.3" y="500.9" width="7.3" height="6.5" fill="#000"/>
<rect x="322.2" y="291" width="301.4" height="213" fill="#1c1c1c"/>
<rect x="331.8" y="279.2" width="11.7" height="11.4" fill="#cccccc"/>
<rect x="332.5" y="291" width="9.7" height="5.2" fill="#fbeea0"/>
<path d="M335.1,291A2.6,2.6 0 0 0 340.2,291Z" fill="#1c1c1c"/>
<rect x="331.8" y="504.5" width="11.7" height="11" fill="#cccccc"/>
<rect x="332.5" y="499" width="9.7" height="5" fill="#fbeea0"/>
<path d="M335.1,504A2.6,2.6 0 0 1 340.2,504Z" fill="#1c1c1c"/>
<rect x="346.8" y="279.2" width="11.7" height="11.4" fill="#cccccc"/>
<rect x="347.5" y="291" width="9.7" height="5.2" fill="#fbeea0"/>
<path d="M350.1,291A2.6,2.6 0 0 0 355.2,291Z" fill="#1c1c1c"/>
<rect x="346.8" y="504.5" width="11.7" height="11" fill="#cccccc"/>
<rect x="347.5" y="499" width="9.7" height="5" fill="#fbeea0"/>
<path d="M350.1,504A2.6,2.6 0 0 1 355.2,504Z" fill="#1c1c1c"/>
<rect x="361.8" y="279.2" width="11.7" height="11.4" fill="#cccccc"/>
<rect x="362.5" y="291" width="9.7" height="5.2" fill="#fbeea0"/>
<path d="M365.1,291A2.6,2.6 0 0 0 370.2,291Z" fill="#1c1c1c"/>
<rect x="361.8" y="504.5" width="11.7" height="11" fill="#cccccc"/>
<rect x="362.5" y="499" width="9.7" height="5" fill="#fbeea0"/>
<path d="M365.1,504A2.6,2.6 0 0 1 370.2,504Z" fill="#1c1c1c"/>
<rect x="376.8" y="279.2" width="11.7" height="11.4" fill="#cccccc"/>
<rect x="377.5" y="291" width="9.7" height="5.2" fill="#fbeea0"/>
<path d="M380.1,291A2.6,2.6 0 0 0 385.2,291Z" fill="#1c1c1c"/>
<rect x="376.8" y="504.5" width="11.7" height="11" fill="#cccccc"/>
<rect x="377.5" y="499" width="9.7" height="5" fill="#fbeea0"/>
<path d="M380.1,504A2.6,2.6 0 0 1 385.2,504Z" fill="#1c1c1c"/>
<rect x="391.8" y="279.2" width="11.7" height="11.4" fill="#cccccc"/>
<rect x="392.5" y="291" width="9.7" height="5.2" fill="#fbeea0"/>
<path d="M395.1,291A2.6,2.6 0 0 0 400.2,291Z" fill="#1c1c1c"/>
<rect x="391.8" y="504.5" width="11.7" height="11" fill="#cccccc"/>
<rect x="392.5" y="499" width="9.7" height="5" fill="#fbeea0"/>
<path d="M395.1,504A2.6,2.6 0 0 1 400.2,504Z" fill="#1c1c1c"/>
<rect x="406.8" y="279.2" width="11.7" height="11.4" fill="#cccccc"/>
<rect x="407.5" y="291" width="9.7" height="5.2" fill="#fbeea0"/>
<path d="M410.1,291A2.6,2.6 0 0 0 415.2,291Z" fill="#1c1c1c"/>
<rect x="406.8" y="504.5" width="11.7" height="11" fill="#cccccc"/>
<rect x="407.5" y="499" width="9.7" height="5" fill="#fbeea0"/>
<path d="M410.1,504A2.6,2.6 0 0 1 415.2,504Z" fill="#1c1c1c"/>
<rect x="421.8" y="279.2" width="11.7" height="11.4" fill="#cccccc"/>
<rect x="422.5" y="291" width="9.7" height="5.2" fill="#fbeea0"/>
<path d="M425.1,291A2.6,2.6 0 0 0 430.2,291Z" fill="#1c1c1c"/>
<rect x="421.8" y="504.5" width="11.7" height="11" fill="#cccccc"/>
<rect x="422.5" y="499" width="9.7" height="5" fill="#fbeea0"/>
<path d="M425.1,504A2.6,2.6 0 0 1 430.2,504Z" fill="#1c1c1c"/>
<rect x="436.8" y="279.2" width="11.7" height="11.4" fill="#cccccc"/>
<rect x="437.5" y="291" width="9.7" height="5.2" fill="#fbeea0"/>
<path d="M440.1,291A2.6,2.6 0 0 0 445.2,291Z" fill="#1c1c1c"/>
<rect x="436.8" y="504.5" width="11.7" height="11" fill="#cccccc"/>
<rect x="437.5" y="499" width="9.7" height="5" fill="#fbeea0"/>
<path d="M440.1,504A2.6,2.6 0 0 1 445.2,504Z" fill="#1c1c1c"/>
<rect x="451.8" y="279.2" width="11.7" height="11.4" fill="#cccccc"/>
<rect x="452.5" y="291" width="9.7" height="5.2" fill="#fbeea0"/>
<path d="M455.1,291A2.6,2.6 0 0 0 460.2,291Z" fill="#1c1c1c"/>
<rect x="451.8" y="504.5" width="11.7" height="11" fill="#cccccc"/>
<rect x="452.5" y="499" width="9.7" height="5" fill="#fbeea0"/>
<path d="M455.1,504A2.6,2.6 0 0 1 460.2,504Z" fill="#1c1c1c"/>
<rect x="466.8" y="279.2" width="11.7" height="11.4" fill="#cccccc"/>
<rect x="467.5" y="291" width="9.7" height="5.2" fill="#fbeea0"/>
<path d="M470.1,291A2.6,2.6 0 0 0 475.2,291Z" fill="#1c1c1c"/>
<rect x="466.8" y="504.5" width="11.7" height="11" fill="#cccccc"/>
<rect x="467.5" y="499" width="9.7" height="5" fill="#fbeea0"/>
<path d="M470.1,504A2.6,2.6 0 0 1 475.2,504Z" fill="#1c1c1c"/>
<rect x="481.8" y="279.2" width="11.7" height="11.4" fill="#cccccc"/>
<rect x="482.5" y="291" width="9.7" height="5.2" fill="#fbeea0"/>
<path d="M485.1,291A2.6,2.6 0 0 0 490.2,291Z" fill="#1c1c1c"/>
<rect x="481.8" y="504.5" width="11.7" height="11" fill="#cccccc"/>
<rect x="482.5" y="499" width="9.7" height="5" fill="#fbeea0"/>
<path d="M485.1,504A2.6,2.6 0 0 1 490.2,504Z" fill="#1c1c1c"/>
<rect x="496.8" y="279.2" width="11.7" height="11.4" fill="#cccccc"/>
<rect x="497.5" y="291" width="9.7" height="5.2" fill="#fbeea0"/>
<path d="M500.1,291A2.6,2.6 0 0 0 505.2,291Z" fill="#1c1c1c"/>
<rect x="496.8" y="504.5" width="11.7" height="11" fill="#cccccc"/>
<rect x="497.5" y="499" width="9.7" height="5" fill="#fbeea0"/>
<path d="M500.1,504A2.6,2.6 0 0 1 505.2,504Z" fill="#1c1c1c"/>
<rect x="511.8" y="279.2" width="11.7" height="11.4" fill="#cccccc"/>
<rect x="512.5" y="291" width="9.7" height="5.2" fill="#fbeea0"/>
<path d="M515,291A2.6,2.6 0 0 0 520.2,291Z" fill="#1c1c1c"/>
<rect x="511.8" y="504.5" width="11.7" height="11" fill="#cccccc"/>
<rect x="512.5" y="499" width="9.7" height="5" fill="#fbeea0"/>
<path d="M515,504A2.6,2.6 0 0 1 520.2,504Z" fill="#1c1c1c"/>
<rect x="526.8" y="279.2" width="11.7" height="11.4" fill="#cccccc"/>
<rect x="527.5" y="291" width="9.7" height="5.2" fill="#fbeea0"/>
<path d="M530,291A2.6,2.6 0 0 0 535.2,291Z" fill="#1c1c1c"/>
<rect x="526.8" y="504.5" width="11.7" height="11" fill="#cccccc"/>
<rect x="527.5" y="499" width="9.7" height="5" fill="#fbeea0"/>
<path d="M530,504A2.6,2.6 0 0 1 535.2,504Z" fill="#1c1c1c"/>
<rect x="309" y="323.1" width="13.2" height="11.2" fill="#cccccc"/>
<rect x="322.2" y="324.3" width="5.7" height="9" fill="#fbeea0"/>
<path d="M322.2,326.1A2.6,2.6 0 0 1 322.2,331.3Z" fill="#1c1c1c"/>
<rect x="309" y="338.1" width="13.2" height="11.2" fill="#cccccc"/>
<rect x="322.2" y="339.3" width="5.7" height="9" fill="#fbeea0"/>
<path d="M322.2,341.1A2.6,2.6 0 0 1 322.2,346.3Z" fill="#1c1c1c"/>
<rect x="309" y="353.1" width="13.2" height="11.2" fill="#cccccc"/>
<rect x="322.2" y="354.3" width="5.7" height="9" fill="#fbeea0"/>
<path d="M322.2,356.1A2.6,2.6 0 0 1 322.2,361.3Z" fill="#1c1c1c"/>
<rect x="309" y="368.1" width="13.2" height="11.2" fill="#cccccc"/>
<rect x="322.2" y="369.3" width="5.7" height="9" fill="#fbeea0"/>
<path d="M322.2,371.1A2.6,2.6 0 0 1 322.2,376.3Z" fill="#1c1c1c"/>
<rect x="309" y="383.1" width="13.2" height="11.2" fill="#cccccc"/>
<rect x="322.2" y="384.3" width="5.7" height="9" fill="#fbeea0"/>
<path d="M322.2,386.1A2.6,2.6 0 0 1 322.2,391.3Z" fill="#1c1c1c"/>
<rect x="309" y="398.1" width="13.2" height="11.2" fill="#cccccc"/>
<rect x="322.2" y="399.3" width="5.7" height="9" fill="#fbeea0"/>
<path d="M322.2,401.1A2.6,2.6 0 0 1 322.2,406.3Z" fill="#1c1c1c"/>
<rect x="309" y="413.1" width="13.2" height="11.2" fill="#cccccc"/>
<rect x="322.2" y="414.3" width="5.7" height="9" fill="#fbeea0"/>
<path d="M322.2,416.1A2.6,2.6 0 0 1 322.2,421.3Z" fill="#1c1c1c"/>
<rect x="309" y="428.1" width="13.2" height="11.2" fill="#cccccc"/>
<rect x="322.2" y="429.3" width="5.7" height="9" fill="#fbeea0"/>
<path d="M322.2,431.1A2.6,2.6 0 0 1 322.2,436.3Z" fill="#1c1c1c"/>
<rect x="309" y="443.1" width="13.2" height="11.2" fill="#cccccc"/>
<rect x="322.2" y="444.3" width="5.7" height="9" fill="#fbeea0"/>
<path d="M322.2,446.1A2.6,2.6 0 0 1 322.2,451.3Z" fill="#1c1c1c"/>
<rect x="309" y="458.1" width="13.2" height="11.2" fill="#cccccc"/>
<rect x="322.2" y="459.3" width="5.7" height="9" fill="#fbeea0"/>
<path d="M322.2,461.1A2.6,2.6 0 0 1 322.2,466.3Z" fill="#1c1c1c"/>
<rect x="540" y="299" width="7" height="197.6" fill="#3a3a3a"/>
<rect x="330" y="301.2" width="209.2" height="193.8" rx="3.5" fill="#999" stroke="#f2f2f2" stroke-width="2"/>
<circle cx="350" cy="321.6" r="6.1" fill="#000"/>
<path d="M559.3,304H615.7V328.6H580.6V358.3H615.7V387H580.6V415.4H615.7V468.6H547M547,442.5H615.7" fill="none" stroke="#555" stroke-width="8.6"/>
<circle cx="549.4" cy="442" r="2.4" fill="#fbeea0"/><circle cx="549.4" cy="468.3" r="2.4" fill="#fbeea0"/>
<text transform="translate(369.3,313) rotate(90)" font-size="14" fill="#e6e6e6" stroke="#e6e6e6" stroke-width="0.45" textLength="171" lengthAdjust="spacingAndGlyphs">FCC 9D:2AC72-ESPWROOM 32</text>
<text transform="translate(394.7,401.7) rotate(90)" font-size="14" fill="#e6e6e6" stroke="#e6e6e6" stroke-width="0.45" textLength="79.8" lengthAdjust="spacingAndGlyphs">205 - 000519</text>
<text transform="translate(478.2,368.3) rotate(90)" font-size="14" fill="#e6e6e6" stroke="#e6e6e6" stroke-width="0.45" textLength="113.2" lengthAdjust="spacingAndGlyphs">ESP - WROOM -32</text>
<g fill="none" stroke="#e6e6e6" stroke-width="2.2" transform="translate(1.8,0)">
<path d="M401,350A17.4,17.4 0 1 1 413.7,349.4"/>
<path d="M410.4,317.7L415,336.7H408.4L413,351.4"/>
<path d="M395,335.4H401M401,327V343.7M405.4,327V343.7"/>
</g><g fill="none" stroke="#e6e6e6" stroke-width="2">
<rect x="392.6" y="368.1" width="18.1" height="26" rx="2.5" stroke-width="1.6"/>
</g>
<text transform="translate(397.2,374.6) rotate(90)" font-size="13" fill="#e6e6e6" stroke="#e6e6e6" stroke-width="0.4">R</text>
<path d="M426.6,382.2A17,17 0 0 1 460.6,382.2" fill="none" stroke="#e6e6e6" stroke-width="6.5"/>
<path d="M426.6,413.7A17,17 0 0 1 460.6,413.7" fill="none" stroke="#e6e6e6" stroke-width="6.5"/>
<rect x="440.6" y="398" width="6" height="14.5" fill="#e6e6e6"/>
<circle cx="482.9" cy="336.3" r="15.9" fill="#e6e6e6"/>
<rect x="474" y="312.6" width="18.1" height="48.8" rx="9" fill="#e6e6e6"/>
<path d="M475.6,339.5Q475.6,335.5 479.5,335.5H486.5Q490.4,335.5 490.4,339.5V352.5Q490.4,359.8 483,359.8Q475.6,359.8 475.6,352.5Z" fill="#9a9a9a"/>
<text transform="translate(477.4,317.3) rotate(90)" font-size="14" font-weight="bold" fill="#8e8e8e" stroke="#8e8e8e" stroke-width="0.5" textLength="17" lengthAdjust="spacingAndGlyphs">WI</text>
<text transform="translate(477.4,342.4) rotate(90)" font-size="14" font-weight="bold" fill="#e6e6e6" textLength="12.5" lengthAdjust="spacingAndGlyphs">FI</text>
<clipPath id="ec"><circle cx="445.5" cy="457.5" r="21.2"/></clipPath>
<path d="M428.2,475A24.5,24.5 0 1 1 462.3,440.2" fill="none" stroke="#e6e6e6" stroke-width="2"/>
<g fill="none" stroke="#e6e6e6" stroke-linecap="round" clip-path="url(#ec)">
<path d="M426.5,452.4C437,453 446,448 447.5,436" stroke-width="4.8"/>
<path d="M425.6,461.8C444,463 458,454 459,436" stroke-width="5.2"/>
<path d="M432.8,473C451,473 465,463 467,446" stroke-width="5.2"/>
<path d="M444,479C457,478 467,470 469,458" stroke-width="4.8"/>
</g>
<circle cx="431.6" cy="443.4" r="3.8" fill="#e6e6e6"/>
<line x1="735.4" y1="316.2" x2="735.4" y2="440" stroke="#8c8c8c" stroke-width="7.6" stroke-linecap="round"/>
<rect x="731.2" y="436" width="8.4" height="15" rx="4.2" fill="#6aa56a"/>
<path d="M722.2,339.2H749Q751,339.2 751,341.2V351.8L748,358.4V402Q751,405 751,408V418.8Q751,420.8 749,420.8H722.2Q720.2,420.8 720.2,418.8V408Q720.2,405 723,402V358.4L720.2,351.8V341.2Q720.2,339.2 722.2,339.2Z" fill="#dfb678"/>
<path d="M720.2,350.6H751V351.8L748,358.4H723L720.2,351.8Z" fill="#8e3f0a"/>
<rect x="723" y="367.4" width="25" height="8.4" fill="#000"/>
<rect x="723" y="383.6" width="25" height="8.4" fill="#cc0a0a"/>
<rect x="721" y="409.7" width="29.5" height="3.3" fill="#bca640"/>
<rect x="721" y="409.7" width="15" height="3.3" fill="#5a5020"/>
<path d="M722.4,346Q722.4,341.5 726.2,341.5Q730,341.5 730,346V413Q730,417 734,418L739.6,419.5V420.8H722.2Q722.4,420 722.4,418Z" fill="#6a4a20" opacity=".38"/>
<circle cx="746.6" cy="342.8" r="1.4" fill="#f6e6c6"/>
<path d="M745.2,401Q746.4,399.5 747.6,401V414H745.2Z" fill="#f0d8a8" opacity=".7"/>
<circle cx="746.5" cy="411.3" r="1.8" fill="#f0f080" opacity=".8"/>
<g fill="none" stroke-linecap="round" stroke-linejoin="round">
<path d="M702.9,316.2V573.6H606.6" stroke="#000" stroke-width="14"/>
<path d="M702.9,316.2V573.6H606.6" stroke="#444" stroke-width="6.5"/>
</g>
<circle cx="702.9" cy="573.6" r="8" fill="#000"/>
<g fill="none" stroke-linecap="round" stroke-linejoin="round">
<path d="M123.8,573.8V735H736V541.6" stroke="#05a321" stroke-width="14.2"/>
<path d="M123.8,573.8V735H736V541.6" stroke="#2dcc3a" stroke-width="7.4"/>
</g>
<circle cx="123.8" cy="735" r="8.2" fill="#05a321"/><circle cx="736.3" cy="735" r="8.2" fill="#05a321"/>
<g fill="none" stroke-linecap="round">
<path d="M767.6,284H864" stroke="#1f5fae" stroke-width="14.4"/>
<path d="M767.6,284H864" stroke="#3a89d8" stroke-width="7.4"/>
</g>
<g fill="none" stroke-linecap="round" stroke-linejoin="round">
<path d="M896.4,284H993.4V122.8" stroke="#8a0505" stroke-width="14.2"/>
<path d="M896.4,284H993.4V122.8" stroke="#cc1818" stroke-width="6.8"/>
<path d="M27.2,122.8V219.6" stroke="#8a0505" stroke-width="14.2"/>
<path d="M27.2,122.8V219.6" stroke="#cc1818" stroke-width="6.8"/>
</g>
<circle cx="993.4" cy="284" r="8" fill="#8a0a0a"/>
<circle cx="702.9" cy="316.2" r="7.6" fill="#2ecc2e" opacity=".3" stroke="#44ee44" stroke-width="1.6" stroke-opacity=".55"/>
<circle cx="606.6" cy="573.6" r="7.6" fill="#2ecc2e" opacity=".3" stroke="#44ee44" stroke-width="1.6" stroke-opacity=".55"/>
<circle cx="123.8" cy="573.8" r="7.6" fill="#2ecc2e" opacity=".3" stroke="#44ee44" stroke-width="1.6" stroke-opacity=".55"/>
<circle cx="736" cy="541.6" r="7.6" fill="#2ecc2e" opacity=".3" stroke="#44ee44" stroke-width="1.6" stroke-opacity=".55"/>
<circle cx="767.6" cy="284" r="7.6" fill="#2ecc2e" opacity=".3" stroke="#44ee44" stroke-width="1.6" stroke-opacity=".55"/>
<circle cx="864" cy="284" r="7.6" fill="#2ecc2e" opacity=".3" stroke="#44ee44" stroke-width="1.6" stroke-opacity=".55"/>
<circle cx="896.4" cy="284" r="7.6" fill="#2ecc2e" opacity=".3" stroke="#44ee44" stroke-width="1.6" stroke-opacity=".55"/>
<circle cx="993.4" cy="122.8" r="7.6" fill="#2ecc2e" opacity=".3" stroke="#44ee44" stroke-width="1.6" stroke-opacity=".55"/>
<circle cx="27.2" cy="122.8" r="7.6" fill="#2ecc2e" opacity=".3" stroke="#44ee44" stroke-width="1.6" stroke-opacity=".55"/>
<circle cx="27.2" cy="219.6" r="7.6" fill="#2ecc2e" opacity=".3" stroke="#44ee44" stroke-width="1.6" stroke-opacity=".55"/>
<g fill="none" stroke="#8c8c8c" stroke-width="8.7" stroke-linejoin="round">
<path d="M717.8,150V161Q717.8,166 714.4,169.8L706.6,178.4Q703.2,182.2 703.2,187V219.6"/><path d="M735.3,150V219.6"/><path d="M752.8,150V161Q752.8,166 756.2,169.8L764,178.4Q767.5,182.2 767.5,187V219.6"/>
</g>
<rect x="698.7" y="198" width="9" height="26" rx="4.5" fill="#6aa56a"/>
<rect x="730.8" y="198" width="9" height="26" rx="4.5" fill="#6aa56a"/>
<rect x="763" y="198" width="9" height="26" rx="4.5" fill="#6aa56a"/>
<path d="M705.8,101A29.6,21 0 0 1 765,101V151Q765,156.5 759.5,156.5H711.3Q705.8,156.5 705.8,151Z" fill="#171717"/>
<path d="M705.8,99.6H765V110Q765,111.9 762,111.9H708.8Q705.8,111.9 705.8,110Z" fill="#222"/>
<rect x="710.3" y="111.7" width="50.2" height="44.8" fill="#000"/>
<path d="M721.1,120.1H730.2V125H735V130H740V120.1H749.9V143.9H740V139.1H735V134.3H730.2V143.9H721.1Z" fill="#9a9a9a"/>
<rect x="856.9" y="140" width="13.8" height="79.6" fill="#000"/>
<rect x="889.6" y="140" width="13.8" height="79.6" fill="#ff0000"/>
<rect x="857" y="195.5" width="13.6" height="32" rx="6.8" fill="#6aa06a"/>
<rect x="889.7" y="195.5" width="13.6" height="32" rx="6.8" fill="#6aa06a"/>
<circle cx="878.6" cy="78.4" r="75.2" fill="#dcdcdc" stroke="#151515" stroke-width="2.4"/>
<circle cx="951" cy="78.8" r="35" fill="#dcdcdc"/>
<circle cx="963.3" cy="80.7" r="9.4" fill="none" stroke="#1a5fb4" stroke-width="1.2"/>
<rect x="956.8" y="80.1" width="13" height="1.2" fill="#111"/>
<rect x="962.7" y="74.2" width="1.2" height="13" fill="#111"/>
<text transform="translate(843.1,79) rotate(-90) scale(0.85,1)" text-anchor="middle" font-size="19.6" font-weight="bold" stroke-width="0.9" textLength="100.9" lengthAdjust="spacing"><tspan fill="#1a5fb4" stroke="#1a5fb4">R</tspan><tspan fill="#111" stroke="#111">E</tspan><tspan fill="#111" stroke="#111">M</tspan><tspan fill="#1a5fb4" stroke="#1a5fb4">O</tspan><tspan fill="#111" stroke="#111">V</tspan><tspan fill="#111" stroke="#111">E</tspan></text>
<text transform="translate(867.4,79) rotate(-90) scale(0.85,1)" text-anchor="middle" font-size="19.6" font-weight="bold" stroke-width="0.9" textLength="63.9" lengthAdjust="spacing"><tspan fill="#1a5fb4" stroke="#1a5fb4">S</tspan><tspan fill="#111" stroke="#111">E</tspan><tspan fill="#1a5fb4" stroke="#1a5fb4">A</tspan><tspan fill="#111" stroke="#111">L</tspan></text>
<text transform="translate(892.4,79) rotate(-90) scale(0.85,1)" text-anchor="middle" font-size="19.6" font-weight="bold" stroke-width="0.9" textLength="79.3" lengthAdjust="spacing"><tspan fill="#1a5fb4" stroke="#1a5fb4">A</tspan><tspan fill="#111" stroke="#111">F</tspan><tspan fill="#111" stroke="#111">T</tspan><tspan fill="#111" stroke="#111">E</tspan><tspan fill="#1a5fb4" stroke="#1a5fb4">R</tspan></text>
<text transform="translate(916.6,79) rotate(-90) scale(0.85,1)" text-anchor="middle" font-size="19.6" font-weight="bold" stroke-width="0.9" textLength="115.3" lengthAdjust="spacing"><tspan fill="#111" stroke="#111">W</tspan><tspan fill="#1a5fb4" stroke="#1a5fb4">A</tspan><tspan fill="#1a5fb4" stroke="#1a5fb4">S</tspan><tspan fill="#111" stroke="#111">H</tspan><tspan fill="#111" stroke="#111">I</tspan><tspan fill="#111" stroke="#111">N</tspan><tspan fill="#1a5fb4" stroke="#1a5fb4">G</tspan></text>
<rect x="915.3" y="173.4" width="15" height="1.6" fill="#ff2a2a"/>
<rect x="922" y="166.8" width="1.6" height="14.7" fill="#ff2a2a"/>
</svg></body></html>
